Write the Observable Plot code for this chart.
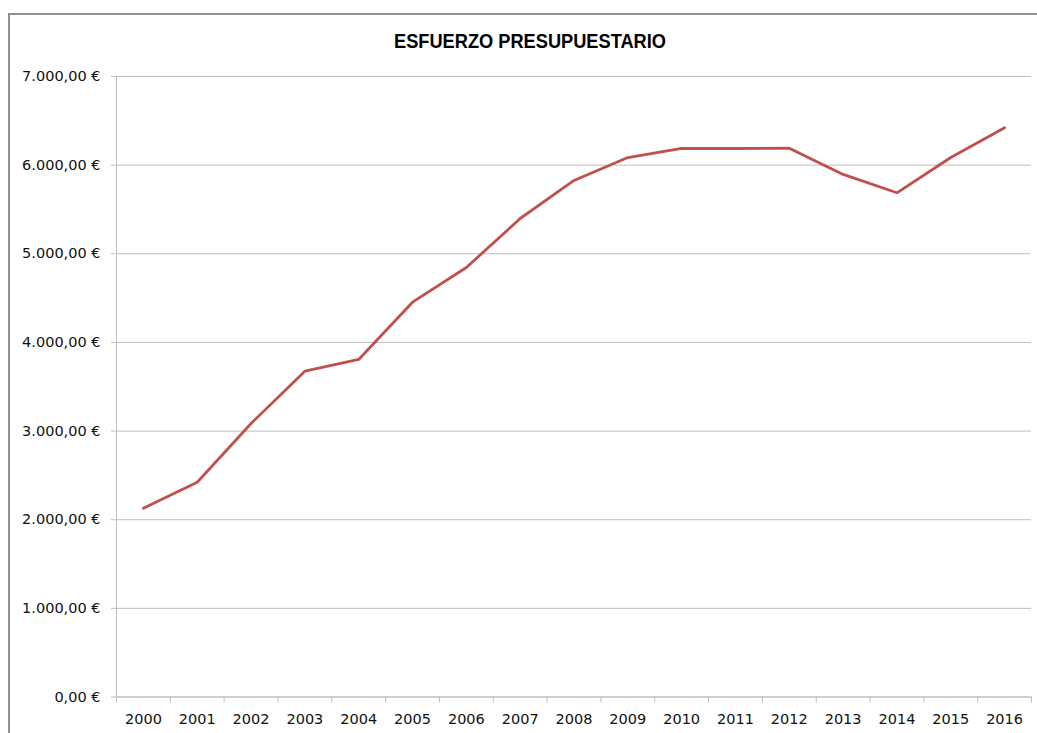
<!DOCTYPE html>
<html>
<head>
<meta charset="utf-8">
<script src="https://cdn.jsdelivr.net/npm/d3@7"></script>
<script src="https://cdn.jsdelivr.net/npm/@observablehq/plot@0.6"></script>
<style>
  html, body { margin: 0; padding: 0; background: #fff; overflow: hidden; }
  #wrap { position: relative; width: 1037px; height: 733px; }
  #border { position: absolute; left: 8px; top: 13px; width: 1100px; height: 800px; border: 2px solid #8f8f8f; box-sizing: border-box; pointer-events: none; }
  #chart { position: absolute; left: 0; top: 0; }
</style>
</head>
<body>
<div id="wrap"><div id="chart"></div><div id="border"></div></div>
<script>
const title = "ESFUERZO PRESUPUESTARIO";
const years = [2000, 2001, 2002, 2003, 2004, 2005, 2006, 2007, 2008, 2009, 2010, 2011, 2012, 2013, 2014, 2015, 2016];
const values = [2130, 2423, 3086, 3676, 3808, 4454, 4845, 5398, 5827, 6086, 6188, 6188, 6191, 5895, 5688, 6086, 6422];
const yTicks = [0, 1000, 2000, 3000, 4000, 5000, 6000, 7000];

const data = years.map((y, i) => ({year: y, value: values[i]}));
const bounds = years.map(y => y - 0.5).concat([years[years.length - 1] + 0.5]);
const loc = d3.formatLocale({decimal: ",", thousands: ".", grouping: [3], currency: ["", ""]});
const fmt = v => loc.format(",.2f")(v) + " €";

const font = "DejaVu Sans, sans-serif";
const chart = Plot.plot({
  width: 1037,
  height: 733,
  marginLeft: 116,
  marginRight: 6,
  marginTop: 76,
  marginBottom: 36.5,
  style: {fontFamily: font, fontSize: "14px", color: "#000", background: "transparent"},
  x: {type: "linear", domain: [bounds[0], bounds[bounds.length - 1]], axis: null, label: null},
  y: {domain: [0, 7000], axis: null, label: null},
  marks: [
    Plot.gridY(yTicks, {stroke: "#bebebe", strokeOpacity: 1, strokeWidth: 1}),
    Plot.ruleX([bounds[0]], {y1: 0, y2: 7000, stroke: "#bebebe", strokeWidth: 1}),
    Plot.ruleY([0], {stroke: "#bebebe", strokeWidth: 1}),
    Plot.axisY({ticks: yTicks, tickSize: 5, tickPadding: 11, tickFormat: fmt, stroke: "#bebebe", fill: "#111", fontSize: 14.5, label: null}),
    Plot.axisX({ticks: bounds, tickSize: 6, tickFormat: () => "", stroke: "#bebebe", label: null}),
    Plot.axisX({ticks: years, tickSize: 0, tickPadding: 17, tickFormat: d => String(d), fill: "#111", fontSize: 14.5, label: null}),
    Plot.line(data, {x: "year", y: "value", stroke: "#C0504D", strokeWidth: 2.8, strokeLinejoin: "miter", strokeLinecap: "round"}),
    Plot.text([title], {frameAnchor: "top", dx: -44, dy: -29, lineAnchor: "bottom", fontWeight: "bold", fontSize: 21, fontFamily: "Liberation Sans, Arial, sans-serif", fill: "#000", className: "ttl"})
  ]
});
document.getElementById("chart").appendChild(chart);
d3.select(chart).selectAll(".ttl text").attr("textLength", 272).attr("lengthAdjust", "spacingAndGlyphs");
</script>
</body>
</html>
